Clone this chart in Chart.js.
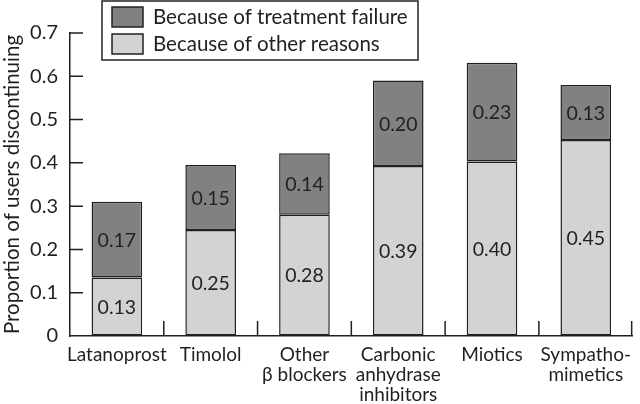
<!DOCTYPE html>
<html>
<head>
<meta charset="utf-8">
<script src="https://cdn.jsdelivr.net/npm/chart.js@4/dist/chart.umd.min.js"></script>
<style>
  html, body { margin: 0; padding: 0; background: #fff; }
  #wrap { width: 640px; height: 404px; position: relative; }
</style>
</head>
<body>
<div id="wrap"><canvas id="myChart" width="640" height="404"></canvas></div>
<script>
const categories = [["Latanoprost"], ["Timolol"], ["Other", "\u03b2 blockers"], ["Carbonic", "anhydrase", "inhibitors"], ["Miotics"], ["Sympatho-", "mimetics"]];
// segment heights
const otherReasons = [0.135, 0.245, 0.28, 0.393, 0.403, 0.453];
const treatmentFailure = [0.175, 0.15, 0.142, 0.197, 0.228, 0.127];
// numbers printed inside the bars
const otherLabels = ["0.13", "0.25", "0.28", "0.39", "0.40", "0.45"];
const failureLabels = ["0.17", "0.15", "0.14", "0.20", "0.23", "0.13"];
const seriesNames = ["Because of treatment failure", "Because of other reasons"];
const yTicks = [0, 0.1, 0.2, 0.3, 0.4, 0.5, 0.6, 0.7];

const FONT = "Lato";
const INK = "#231f20";

const barLabels = {
    id: "barLabels",
    afterDatasetsDraw(chart) {
        const ctx = chart.ctx;
        const texts = [otherLabels, failureLabels];
        ctx.save();
        ctx.font = "19.5px " + FONT;
        ctx.fillStyle = INK;
        ctx.textAlign = "center";
        ctx.textBaseline = "middle";
        chart.data.datasets.forEach((ds, i) => {
            chart.getDatasetMeta(i).data.forEach((bar, j) => {
                ctx.fillText(texts[i][j], bar.x, (bar.y + bar.base) / 2 + 1);
            });
        });
        ctx.restore();
    }
};

const axisMarks = {
    id: "axisMarks",
    afterDraw(chart) {
        const ctx = chart.ctx;
        const x = chart.scales.x, y = chart.scales.y;
        ctx.save();
        ctx.strokeStyle = INK;
        ctx.lineWidth = 1.5;
        ctx.beginPath();
        yTicks.forEach(v => {
            if (v === 0) return;
            const py = y.getPixelForValue(v);
            ctx.moveTo(x.left, py);
            ctx.lineTo(x.left + 13, py);
        });
        const w = (x.right - x.left) / categories.length;
        for (let i = 1; i <= categories.length; i++) {
            const px = x.left + i * w - (i === categories.length ? 1 : 0);
            ctx.moveTo(px, y.bottom);
            ctx.lineTo(px, y.bottom - 15);
        }
        ctx.stroke();

        // legend box drawn over the plot
        const bx = 102, by = 1, bw = 316, bh = 59;
        ctx.fillStyle = "#fff";
        ctx.fillRect(bx, by, bw, bh);
        ctx.strokeRect(bx, by, bw, bh);
        const order = [1, 0];
        ctx.font = "20.5px " + FONT;
        ctx.textAlign = "left";
        ctx.textBaseline = "middle";
        order.forEach((di, k) => {
            const ds = chart.data.datasets[di];
            const sy = 7 + k * 27;
            ctx.fillStyle = ds.backgroundColor;
            ctx.fillRect(112, sy, 31, 20);
            ctx.strokeRect(112, sy, 31, 20);
            ctx.fillStyle = INK;
            ctx.fillText(ds.label, 153, sy + 10);
        });
        ctx.restore();
    }
};

new Chart(document.getElementById("myChart"), {
    type: "bar",
    data: {
        labels: categories,
        datasets: [{
            label: seriesNames[1],
            data: otherReasons,
            backgroundColor: "#d3d3d3",
            borderColor: INK,
            borderWidth: 1.5,
            borderSkipped: false,
            barPercentage: 0.54,
            categoryPercentage: 1
        }, {
            label: seriesNames[0],
            data: treatmentFailure,
            backgroundColor: "#818181",
            borderColor: INK,
            borderWidth: 1.5,
            borderSkipped: false,
            barPercentage: 0.54,
            categoryPercentage: 1
        }]
    },
    options: {
        responsive: false,
        animation: false,
        layout: { padding: { top: 33, right: 0, left: 0, bottom: 0 } },
        plugins: {
            legend: { display: false },
            tooltip: { enabled: false }
        },
        scales: {
            x: {
                stacked: true,
                offset: true,
                grid: { display: true, drawOnChartArea: false, drawTicks: false },
                border: { display: true, color: INK, width: 1.5 },
                ticks: {
                    color: INK,
                    font: { family: FONT, size: 19, lineHeight: 1.05 },
                    padding: 9,
                    maxRotation: 0,
                    autoSkip: false
                },
                afterFit(scale) { scale.height = 68; }
            },
            y: {
                stacked: true,
                min: 0,
                max: 0.7,
                grid: { display: true, drawOnChartArea: false, drawTicks: false },
                border: { display: true, color: INK, width: 1.5 },
                ticks: {
                    stepSize: 0.1,
                    color: INK,
                    padding: 12,
                    font: { family: FONT, size: 20 },
                    callback: v => v === 0 ? "0" : v.toFixed(1)
                },
                title: {
                    display: true,
                    text: "Proportion of users discontinuing",
                    color: INK,
                    font: { family: FONT, size: 20.5 },
                    padding: 0
                },
                afterFit(scale) { scale.width = 70; }
            }
        }
    },
    plugins: [barLabels, axisMarks]
});
</script>
</body>
</html>
